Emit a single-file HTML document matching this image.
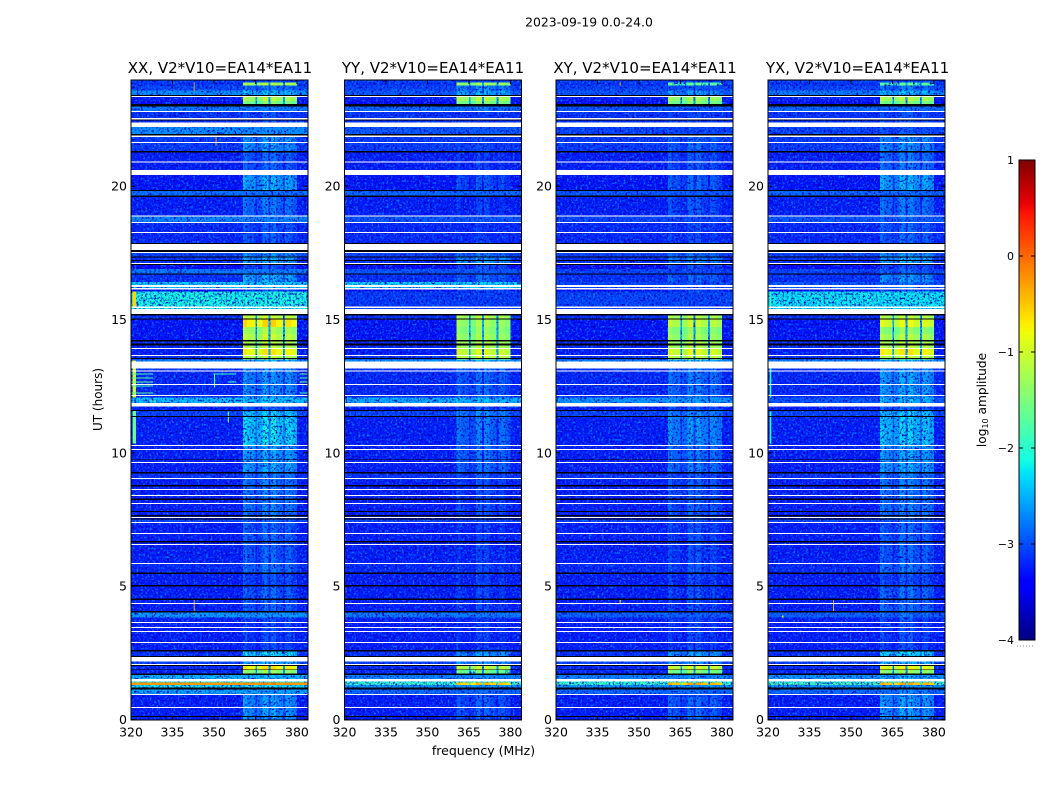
<!DOCTYPE html>
<html lang="en">
<head>
<meta charset="utf-8">
<title>2023-09-19 0.0-24.0</title>
<style>
html,body{margin:0;padding:0;background:#fff;}
svg{display:block;}
text{font-family:"DejaVu Sans","Liberation Sans",sans-serif;fill:#000;}
</style>
</head>
<body>
<svg id="chart" xmlns="http://www.w3.org/2000/svg" width="1050" height="800" viewBox="0 0 1050 800">
  <defs>
    <filter id="speckle-bright" x="0" y="0" width="100%" height="100%" color-interpolation-filters="sRGB">
      <feTurbulence type="fractalNoise" baseFrequency="0.46" numOctaves="2" seed="4"/>
      <feColorMatrix type="matrix" values="0 0 0 0 0  0 0 0 0 0.5  0 0 0 0 1  3.6 0 0 0 -1.8"/>
    </filter>
    <filter id="speckle-dark" x="0" y="0" width="100%" height="100%" color-interpolation-filters="sRGB">
      <feTurbulence type="fractalNoise" baseFrequency="0.46" numOctaves="2" seed="11"/>
      <feColorMatrix type="matrix" values="0 0 0 0 0  0 0 0 0 0  0 0 0 0 0.72  0 3.6 0 0 -1.8"/>
    </filter>
  </defs>
  <text x="589" y="26.5" font-size="12.4" text-anchor="middle">2023-09-19 0.0-24.0</text>
  <text x="220" y="73" font-size="15" text-anchor="middle">XX, V2*V10=EA14*EA11</text>
  <text x="433" y="73" font-size="15" text-anchor="middle">YY, V2*V10=EA14*EA11</text>
  <text x="645" y="73" font-size="15" text-anchor="middle">XY, V2*V10=EA14*EA11</text>
  <text x="857.5" y="73" font-size="15" text-anchor="middle">YX, V2*V10=EA14*EA11</text>
  <text x="0" y="0" font-size="12" text-anchor="middle" transform="translate(102,399.5) rotate(-90)">UT (hours)</text>
  <text x="483.5" y="755" font-size="12.5" text-anchor="middle">frequency (MHz)</text>
  <text x="0" y="0" font-size="12.2" text-anchor="middle" transform="translate(986,400) rotate(-90)">log<tspan font-size="8" dy="2">10</tspan><tspan dy="-2"> amplitude</tspan></text>
  <g id="panels"></g>
  <g id="colorbar"></g>
</svg>
<script>
// ---- chart data ----
const panelNames = ['xx', 'yy', 'xy', 'yx'];
const xTickLabels = [320, 335, 350, 365, 380];
const yTickLabels = [0, 5, 10, 15, 20];
const colorbarTickLabels = [1, 0, -1, -2, -3, -4];

// Frequency column edges (MHz) and each column's offset from the row's band level.
const freqEdges = [320, 360.5, 362, 365, 365.6, 367.5, 369.8, 370.5, 372.5, 374.9, 375.6, 378, 380, 384];
const bandProfile = [null, -0.05, -0.2, -0.6, -0.3, 0, -0.55, 0, -0.2, -0.55, -0.1, -0.25, null];
// Columns falling between sub-bands; their level never rises above this ceiling.
const gapColumns = [3, 6, 9];
const gapCeiling = [-2.5];

// Time rows: upper edge of each row in integration records (640 records = 24 h).
const rowTopRecord = [
  639.5,637,634,629,622.5,618.5,613,607.5,592.5,584,
  568.5,544.5,528.5,522.5,503,497.5,469.5,462,454.5,450.5,
  445.5,437.5,430,428,404,400,392.5,385.5,378,371,
  363.5,360,351,348,322,316.5,308.5,303,274.5,246.5,
  239.5,200,196.5,156,145.5,133,107,102,68,58,
  53.5,49.5,44.5,38,37,34.5,30,25];

// log10 amplitude outside the receiver band, per row.
const backgroundXX = [
  -3.05,-3.15,-3.05,-2.65,-3.25,-3.35,-2.75,-3.15,-2.65,-3.1,
  -3.25,-3.3,-2.8,-3.25,-2.7,-3.2,-3.05,-3.15,-3.4,-2.75,
  -3.15,-2.35,-3.35,-2.1,-3.15,-3.3,-3.3,-3.3,-3.2,-3.25,
  -3.15,-2.7,-3.15,-3.2,-2.4,-3.25,-3.05,-3.25,-3.25,-3.15,
  -3.25,-3.05,-3.25,-3.2,-3.25,-3.25,-2.6,-3.25,-3.15,-3.05,
  -3.2,-3.2,-2.45,-2.1,-0.25,-2.2,-2.55,-3.25];
const backgroundYY = [
  -3.05,-3.15,-3.05,-2.95,-3.25,-3.35,-2.85,-3.15,-2.95,-3.1,
  -3.25,-3.3,-2.85,-3.25,-2.95,-3.2,-3.05,-3.15,-3.4,-2.95,
  -3.15,-2.3,-3.35,-3.1,-3.15,-3.3,-3.3,-3.3,-3.2,-3.25,
  -3.15,-2.6,-3.15,-3.2,-2.5,-3.25,-3.05,-3.25,-3.25,-3.15,
  -3.25,-3.05,-3.25,-3.2,-3.25,-3.25,-2.75,-3.25,-3.15,-3.05,
  -3.2,-3.2,-2.7,-2.1,-1.9,-2.6,-2.85,-3.25];
const backgroundXY = [
  -3.05,-3.15,-3.05,-2.95,-3.25,-3.35,-2.95,-3.15,-3.05,-3.1,
  -3.25,-3.3,-2.95,-3.25,-3.05,-3.2,-3.05,-3.15,-3.4,-3.05,
  -3.15,-3.05,-3.35,-3.05,-3.15,-3.3,-3.3,-3.3,-3.2,-3.25,
  -3.15,-2.7,-3.15,-3.2,-2.6,-3.25,-3.05,-3.25,-3.25,-3.15,
  -3.25,-3.05,-3.25,-3.2,-3.25,-3.25,-2.9,-3.25,-3.15,-3.05,
  -3.2,-3.2,-2.7,-2.1,-1.9,-2.6,-2.85,-3.25];
const backgroundYX = [
  -3.05,-3.15,-3.05,-2.75,-3.25,-3.35,-2.85,-3.15,-3.05,-3.1,
  -3.25,-3.3,-2.85,-3.25,-2.95,-3.2,-3.05,-3.15,-3.4,-3.05,
  -3.15,-2.95,-3.35,-2.2,-3.15,-3.3,-3.3,-3.3,-3.2,-3.25,
  -3.15,-2.7,-3.15,-3.2,-2.95,-3.25,-3.05,-3.25,-3.25,-3.15,
  -3.25,-3.05,-3.25,-3.2,-3.25,-3.25,-2.9,-3.25,-3.15,-3.05,
  -3.2,-3.2,-2.6,-2.1,-1.8,-2.6,-2.85,-3.25];

// log10 amplitude inside the 360-380 MHz band, per row.
const bandXX = [
  -3.1,-1.1,-2.7,-2.3,-1.1,-1.4,-2.7,-2.9,-2.8,-2.5,
  -2.8,-2.4,-2.8,-2.7,-2.7,-2.85,-2.5,-2.4,-2.9,-2.8,
  -2.4,-2.3,-2.9,-2.1,-0.95,-0.55,-1.15,-1.0,-1.05,-0.65,
  -1.0,-2.3,-2.55,-2.55,-2.25,-2.8,-2.25,-2.15,-2.45,-2.65,
  -2.65,-2.8,-2.8,-2.7,-2.9,-2.8,-2.7,-2.95,-2.15,-2.3,
  -0.6,-1.25,-2.4,-2.0,-0.1,-2.4,-2.6,-2.5];
const bandYY = [
  -3.1,-1.2,-2.6,-2.4,-1.1,-1.4,-2.7,-3.1,-3.0,-3.0,
  -3.05,-2.9,-2.9,-3.05,-3.0,-3.1,-2.7,-2.5,-2.9,-3.0,
  -2.8,-2.3,-2.9,-3.1,-1.1,-1.2,-1.3,-1.2,-1.1,-0.9,
  -1.0,-2.3,-2.7,-2.8,-2.3,-2.9,-2.6,-2.7,-2.75,-2.9,
  -2.95,-3.0,-3.05,-3.0,-3.05,-3.0,-2.9,-3.05,-2.5,-2.5,
  -1.0,-1.5,-2.6,-2.0,-0.4,-2.7,-2.8,-2.85];
const bandXY = [
  -3.1,-1.6,-2.9,-2.5,-1.2,-1.4,-3.0,-3.0,-3.1,-2.8,
  -2.9,-2.8,-2.9,-2.9,-3.0,-3.0,-2.7,-2.6,-2.9,-3.0,
  -2.8,-2.9,-3.0,-3.05,-1.1,-1.0,-1.3,-1.2,-1.1,-0.85,
  -1.0,-2.3,-2.7,-2.7,-2.5,-2.9,-2.6,-2.55,-2.7,-2.9,
  -2.85,-2.95,-2.95,-2.9,-3.0,-2.95,-2.9,-3.0,-2.5,-2.5,
  -0.9,-1.4,-2.6,-2.0,-0.3,-2.7,-2.8,-2.8];
const bandYX = [
  -3.1,-1.6,-2.7,-2.3,-1.1,-1.4,-2.8,-2.9,-2.9,-2.55,
  -2.7,-2.4,-2.8,-2.7,-2.8,-2.8,-2.5,-2.4,-2.9,-2.8,
  -2.5,-2.7,-2.9,-2.2,-1.05,-0.8,-1.3,-1.1,-1.05,-0.65,
  -1.0,-2.3,-2.55,-2.45,-2.3,-2.8,-2.25,-2.25,-2.45,-2.65,
  -2.65,-2.8,-2.8,-2.7,-2.9,-2.75,-2.7,-2.95,-2.15,-2.3,
  -0.75,-1.25,-2.4,-2.0,-0.3,-2.6,-2.6,-2.5];

const panelBackground = [backgroundXX, backgroundYY, backgroundXY, backgroundYX];
const panelBand = [bandXX, bandYY, bandXY, bandYX];

// Flagged (no data, white) time ranges in records.
const flaggedFrom = [623.5,608.5,601.5,597,584,577.5,558,549.5,504,497.5,487.5,475.5,467.5,456.5,434.5,431.5,413,410.5,371.5,364.5,358,349,335.5,324.5,316.5,274.5,270.5,257.5,241.5,230.5,224.5,216.5,202.5,197.5,186.5,175.5,156.5,116.5,97.5,92.5,88.5,77.5,62.5,55.5,40.5,25.5,12.5];
const flaggedTo = [622.5,607.5,600,592.5,582.5,576.5,557,544.5,503,496.5,486.5,469.5,466.5,455.5,432.5,430,411.5,405.5,370.5,363.5,351,348,334.5,323.5,313,273.5,269.5,256.5,240.5,229.5,223.5,215.5,201.5,196.5,185.5,174.5,155.5,115.5,96.5,91.5,87.5,76.5,58,54.5,38,24.5,11.5];

// Zero-amplitude (black) time ranges in records.
const zeroFrom = [624.5,615.5,600,585.5,568.5,529.5,524,476.5,469.5,463,459.5,455.5,446,405.5,401,379.5,376,361.5,309.5,303.5,260,247.5,234.5,221,208.5,204.5,201,178.5,147,134.5,121,108.5,69.5,63.5,54.5,50,46,32,3.5];
const zeroTo = [623.5,613,599,584,567,528.5,522.5,475.5,467.5,462,458.5,454.5,445,404,400,378,374,360.5,308.5,302.5,259.5,246,233,219.5,207.5,203,200,177,145.5,133,119.5,107,68,62.5,53.5,49.5,44.5,30,2.5];

// Narrow-band interference features.
const rfiPanel = [0,0,0,0,0,0,0,0,0,0,0,0,0,0,0,0,0,0,0,0,0,3,3,3,1,2,2,3,3];
const rfiFreqLo = [320.6,320.6,320.6,320.6,320,320,320,320,320,350,355,350.6,349.8,342.7,342.7,381,381,381,381,355,327,320.6,320.6,320.6,327,343,343,343.5,325];
const rfiFreqHi = [321.8,321.8,321.8,321.8,328,328,328,328,328,350.4,355.4,350.9,358,343,343,384,384,384,384,358,329,321.2,321.2,321.2,328,343.4,343.4,343.8,325.6];
const rfiRecHi = [428,351,308.5,359,346,342,338,334,327,346,308,586,346,637,120,346,342,338,327,338,319,428,351,308,316,637,120,120,104];
const rfiRecLo = [413,322,276,358,345,341,337,333,326,332,297,574,345,628,106,345,341,337,326,337,318,413,322,276,315,634,116,108,102];
const rfiLevel = [-0.6,-1.0,-1.6,-0.7,-1.8,-1.7,-1.6,-1.8,-1.7,-1.8,-1.5,-0.5,-1.9,-0.3,-0.5,-1.7,-1.8,-1.6,-1.8,-1.9,-1.8,-2.0,-2.0,-2.0,-2.0,-0.3,-0.5,-0.6,-0.8];

// ---- layout and scales ----
const SVGNS = 'http://www.w3.org/2000/svg';
const plotLefts = [131, 344.5, 556, 768];
const plotWidth = 177;
const plotTop = 79.5;
const plotBottom = 719.5;
const FREQ_MIN = 320;
const FREQ_MAX = 384;
const RECORDS_PER_DAY = 640;
const SOLID_LEVEL = -1.75;

function xScale(panel, mhz) {
  return plotLefts[panel] + (mhz - FREQ_MIN) / (FREQ_MAX - FREQ_MIN) * plotWidth;
}
function yOfHour(hour) {
  return plotBottom - hour / 24 * (plotBottom - plotTop);
}
function yOfRecord(rec) {
  return yOfHour(rec * 24 / RECORDS_PER_DAY);
}
function ramp(t, pts) {
  for (let i = 1; i < pts.length; i++) {
    if (t <= pts[i][0]) {
      const a = pts[i - 1], b = pts[i];
      return a[1] + (b[1] - a[1]) * (t - a[0]) / (b[0] - a[0]);
    }
  }
  return pts[pts.length - 1][1];
}
function jetColor(level) {
  const t = Math.max(0, Math.min(1, (level + 4) / 5));
  const r = ramp(t, [[0, 0], [0.35, 0], [0.66, 1], [0.89, 1], [1, 0.5]]);
  const g = ramp(t, [[0, 0], [0.125, 0], [0.375, 1], [0.64, 1], [0.91, 0], [1, 0]]);
  const b = ramp(t, [[0, 0.5], [0.11, 1], [0.34, 1], [0.65, 0], [1, 0]]);
  return 'rgb(' + Math.round(r * 255) + ',' + Math.round(g * 255) + ',' + Math.round(b * 255) + ')';
}
function makeEl(tag, attrs, parent) {
  const el = document.createElementNS(SVGNS, tag);
  for (const k in attrs) el.setAttribute(k, attrs[k]);
  parent.appendChild(el);
  return el;
}
function cellLevel(bgLevel, bandLevel, column) {
  const off = bandProfile[column];
  if (off === null) return bgLevel;
  let value = bandLevel + off;
  if (gapColumns.indexOf(column) >= 0) value = Math.min(value, gapCeiling[0]);
  return Math.max(bgLevel, value);
}

// ---- draw panels ----
const panelsRoot = document.getElementById('panels');
panelNames.forEach(function (name, p) {
  const left = plotLefts[p];
  const g = makeEl('g', {}, panelsRoot);
  
  

  const bg = panelBackground[p];
  const band = panelBand[p];
  const quietLayer = makeEl('g', {}, g);
  
  

  const bright = makeEl('rect', { x: left, y: plotTop, width: plotWidth, height: plotBottom - plotTop, filter: 'url(#speckle-bright)' }, g);
  
  
  const dark = makeEl('rect', { x: left, y: plotTop, width: plotWidth, height: plotBottom - plotTop, filter: 'url(#speckle-dark)' }, g);
  
  

  const solidLayer = makeEl('g', {}, g);
  
  

  rowTopRecord.forEach(function (top, r) {
    const bottom = r + 1 < rowTopRecord.length ? rowTopRecord[r + 1] : 0;
    const y0 = yOfRecord(top);
    const y1 = yOfRecord(bottom);
    bandProfile.forEach(function (off, c) {
      const level = cellLevel(bg[r], band[r], c);
      const x0 = xScale(p, freqEdges[c]);
      const x1 = xScale(p, freqEdges[c + 1]);
      const layer = level > SOLID_LEVEL ? solidLayer : quietLayer;
      const cell = makeEl('rect', { x: x0, y: y0, width: x1 - x0, height: y1 - y0, fill: jetColor(level), 'shape-rendering': 'crispEdges' }, layer);
      
      
    });
  });

  rfiPanel.forEach(function (owner, i) {
    if (owner !== p) return;
    const x0 = xScale(p, rfiFreqLo[i]);
    const x1 = xScale(p, rfiFreqHi[i]);
    const y0 = yOfRecord(rfiRecHi[i]);
    const y1 = yOfRecord(rfiRecLo[i]);
    const mark = makeEl('rect', { x: x0, y: y0, width: x1 - x0, height: y1 - y0, fill: jetColor(rfiLevel[i]) }, g);
    
    
  });

  zeroFrom.forEach(function (from, i) {
    const y0 = yOfRecord(from);
    const y1 = yOfRecord(zeroTo[i]);
    const span = makeEl('rect', { x: left, y: y0, width: plotWidth, height: y1 - y0, fill: '#00000c', 'shape-rendering': 'crispEdges' }, g);
    
    
  });
  flaggedFrom.forEach(function (from, i) {
    const y0 = yOfRecord(from);
    const y1 = yOfRecord(flaggedTo[i]);
    const span = makeEl('rect', { x: left, y: y0, width: plotWidth, height: y1 - y0, fill: '#ffffff', 'shape-rendering': 'crispEdges' }, g);
    
    
  });

  const frame = makeEl('rect', { x: left, y: 80, width: plotWidth, height: 640, fill: 'none', stroke: '#000', 'stroke-width': 1 }, g);
  
  

  xTickLabels.forEach(function (v) {
    const x = xScale(p, v);
    const tickB = makeEl('line', { x1: x, x2: x, y1: 720, y2: 716, stroke: '#000' }, g);
    
    
    const tickT = makeEl('line', { x1: x, x2: x, y1: 80, y2: 84, stroke: '#000' }, g);
    
    
    const label = makeEl('text', { x: x, y: 736.5, 'font-size': 12.5, 'text-anchor': 'middle' }, g);
    
    
    label.textContent = v;
  });
  yTickLabels.forEach(function (v) {
    const y = yOfHour(v);
    const tickL = makeEl('line', { x1: left, x2: left + 4, y1: y, y2: y, stroke: '#000' }, g);
    
    
    const tickR = makeEl('line', { x1: left + plotWidth, x2: left + plotWidth - 4, y1: y, y2: y, stroke: '#000' }, g);
    
    
    const label = makeEl('text', { x: left - 4, y: y + 4.5, 'font-size': 12.5, 'text-anchor': 'end' }, g);
    
    
    label.textContent = v;
  });
});

// ---- draw colorbar ----
const cbRoot = document.getElementById('colorbar');
const cbLeft = 1019, cbWidth = 16, cbTop = 160, cbBottom = 640;
function cbY(level) {
  return cbBottom - (level + 4) / 5 * (cbBottom - cbTop);
}
for (let y = cbTop; y < cbBottom; y += 2) {
  const swatch = makeEl('rect', { x: cbLeft, y: y, width: cbWidth, height: 2.2, fill: jetColor(-4 + (cbBottom - y - 1) / (cbBottom - cbTop) * 5), 'shape-rendering': 'crispEdges' }, cbRoot);
  
  
}
const cbFrame = makeEl('rect', { x: cbLeft, y: cbTop, width: cbWidth, height: cbBottom - cbTop, fill: 'none', stroke: '#000' }, cbRoot);


const cbDots = makeEl('line', { x1: 1017, x2: 1035, y1: 646, y2: 646, stroke: '#888', 'stroke-dasharray': '1 2' }, cbRoot);


colorbarTickLabels.forEach(function (v) {
  const y = cbY(v);
  const tickA = makeEl('line', { x1: cbLeft, x2: cbLeft + 4, y1: y, y2: y, stroke: '#000' }, cbRoot);
  
  
  const tickB = makeEl('line', { x1: cbLeft + cbWidth, x2: cbLeft + cbWidth - 4, y1: y, y2: y, stroke: '#000' }, cbRoot);
  
  
  const label = makeEl('text', { x: 1014, y: y + 4, 'font-size': 11, 'text-anchor': 'end' }, cbRoot);
  
  
  label.textContent = String(v).replace('-', '\u2212');
});
</script>
</body>
</html>
